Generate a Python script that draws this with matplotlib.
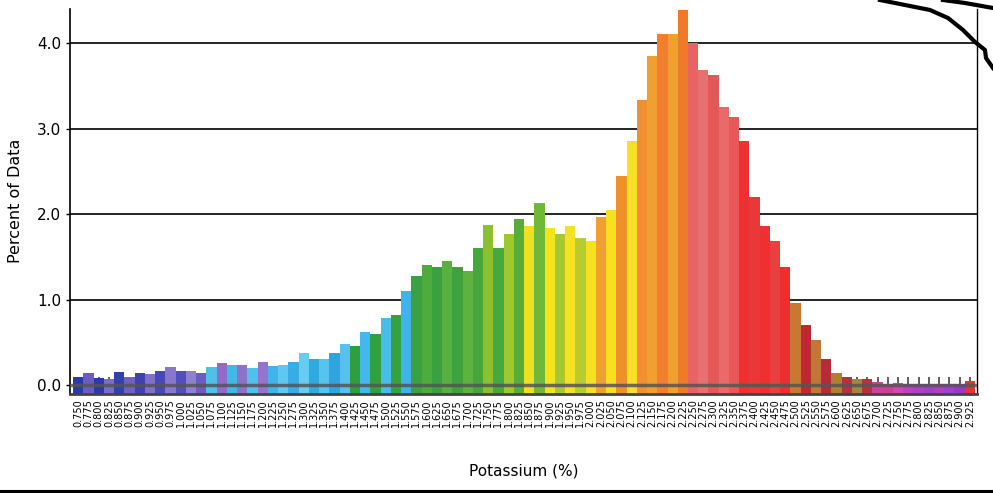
import matplotlib
matplotlib.use("Agg")
import matplotlib.pyplot as plt
import numpy as np
from matplotlib.lines import Line2D

# potassium bins 0.750 .. 2.925, step 0.025
potassium = np.round(np.arange(0.750, 2.926, 0.025), 3)
tick_labels = ["%.3f" % k for k in potassium]

percent = [
    0.10, 0.14, 0.08, 0.07, 0.15, 0.09, 0.14, 0.13, 0.16, 0.21,
    0.17, 0.17, 0.14, 0.21, 0.26, 0.23, 0.24, 0.20, 0.27, 0.22,
    0.24, 0.27, 0.37, 0.30, 0.31, 0.38, 0.48, 0.46, 0.62, 0.60,
    0.79, 0.82, 1.10, 1.27, 1.40, 1.38, 1.45, 1.38, 1.33, 1.60,
    1.87, 1.60, 1.77, 1.94, 1.86, 2.13, 1.84, 1.77, 1.86, 1.72,
    1.69, 1.97, 2.05, 2.44, 2.86, 3.33, 3.85, 4.11, 4.11, 4.39,
    4.00, 3.68, 3.63, 3.25, 3.13, 2.86, 2.20, 1.86, 1.68, 1.38,
    0.96, 0.70, 0.53, 0.31, 0.14, 0.09, 0.07, 0.07, 0.03, 0.01,
    0.02, 0.01, 0.01, 0.01, 0.01, 0.01, 0.01, 0.05,
]

bar_colors = [
    "#2a3aa8", "#6a5cc0", "#2a3aa8", "#7a6cc8", "#3040b0", "#7060c0", "#4040b0", "#8070c8",
    "#4848b8", "#8878cc", "#5050b8", "#9080d0", "#6a5cc0", "#50c0e8", "#8e6cc8", "#40b8e8",
    "#9070c8", "#50c0ec", "#9474cc", "#40b4e8", "#60c8f0", "#38ace4", "#68ccf0", "#30a8e0",
    "#58c4ee", "#30a4e0", "#58c0ec", "#2e9e3e", "#44b8ec", "#32a040", "#48bcec", "#34a23e",
    "#40b4e8", "#3aa040", "#4eac3c", "#3aa040", "#58b040", "#3ea23e", "#60b23e", "#44a63c",
    "#8cc030", "#48a83c", "#9cc830", "#58ac38", "#f0e020", "#70b838", "#f4e41c", "#a8c830",
    "#f6e220", "#b8cc30", "#f8e020", "#f0a030", "#f8e020", "#f0902a", "#f8e028", "#f09030",
    "#f0a030", "#f08030", "#f0a030", "#ee7a2a", "#e86464", "#e87070", "#e45858", "#ea6a6a",
    "#e85858", "#ee3030", "#e83838", "#ee3030", "#e84040", "#ee2e2e", "#c87830", "#c02830",
    "#c07838", "#b82a35", "#b08030", "#b83040", "#a08840", "#b83040", "#d040a0", "#c84098",
    "#d048b0", "#c040c0", "#b040c8", "#a040c8", "#b040c0", "#a040d0", "#9838c8", "#ee3030",
]

ymin, ymax = -0.1, 4.4

fig = plt.figure(figsize=(9.93, 4.93), dpi=100)
ax = fig.add_axes([0.0705, 0.2016, 0.9134, 0.7804])

x = np.arange(len(percent))
heights = np.array(percent) - ymin
ax.bar(x, heights, bottom=ymin, width=1.0, color=bar_colors, edgecolor="none", zorder=2)

for g in [1, 2, 3, 4]:
    ax.axhline(g, color="black", lw=1.2, zorder=1)
ax.axhline(0, color="#555555", lw=2.5, alpha=0.85, zorder=3)

ax.set_xlim(-0.8, 87.7)
ax.set_ylim(ymin, ymax)
ax.set_yticks([0, 1, 2, 3, 4])
ax.set_yticklabels(["0.0", "1.0", "2.0", "3.0", "4.0"], fontsize=11)
ax.set_xticks(x)
ax.set_xticklabels(tick_labels, rotation=90, fontsize=7)
ax.tick_params(axis="x", direction="in", length=12, width=1.2, color="#444444", pad=4)
ax.tick_params(axis="y", direction="out", length=3, width=1)

ax.spines["top"].set_visible(False)
ax.spines["bottom"].set_color("#444444")
ax.spines["bottom"].set_linewidth(2)
ax.spines["right"].set_linewidth(1)
ax.spines["left"].set_linewidth(1.2)

ax.set_ylabel("Percent of Data", fontsize=11.5, labelpad=10)
ax.set_xlabel("Potassium (%)", fontsize=11, labelpad=26)

# bottom rule and hand scribble on the scan
W, H = 993, 493
fig.add_artist(Line2D([0, 1], [2 / H, 2 / H], color="black", lw=2.2, transform=fig.transFigure))
sx = [880, 905, 930, 948, 963, 975, 985, 986, 993]
sy = [0, 5, 10, 18, 30, 42, 50, 58, 68]
fig.add_artist(Line2D([v / W for v in sx], [1 - v / H for v in sy], color="black", lw=3,
                      transform=fig.transFigure))
sx2 = [943, 965, 993]
sy2 = [0, 3, 8]
fig.add_artist(Line2D([v / W for v in sx2], [1 - v / H for v in sy2], color="black", lw=3,
                      transform=fig.transFigure))

fig.savefig("out.png", dpi=100)
